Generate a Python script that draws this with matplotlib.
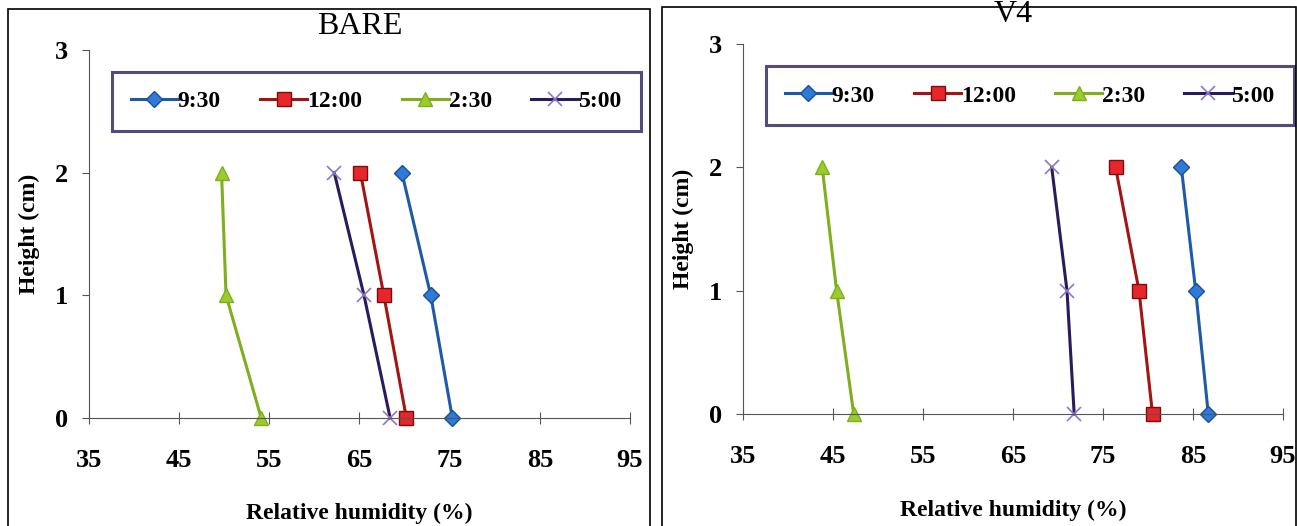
import matplotlib
matplotlib.use("Agg")
import matplotlib.pyplot as plt
from matplotlib.patches import Rectangle

heights = [2, 1, 0]
times = ["9:30", "12:00", "2:30", "5:00"]

# relative humidity (%) at heights 2, 1, 0 cm
bare_930 = [69.7, 72.9, 75.3]
bare_1200 = [65.1, 67.7, 70.2]
bare_230 = [49.7, 50.2, 54.1]
bare_500 = [62.2, 65.5, 68.4]

v4_930 = [83.7, 85.3, 86.7]
v4_1200 = [76.4, 79.0, 80.5]
v4_230 = [43.8, 45.4, 47.3]
v4_500 = [69.3, 71.0, 71.8]

x_ticks = [35, 45, 55, 65, 75, 85, 95]
y_ticks = [0, 1, 2, 3]

styles = [
    dict(color="#1F5AA8", marker="D", mfc="#2F7AD8", mec="#1A4F95", ms=8),
    dict(color="#A31515", marker="s", mfc="#E8262A", mec="#7A0E0E", ms=10),
    dict(color="#7FAE1E", marker="^", mfc="#9BCB2C", mec="#7FAE1E", ms=10),
    dict(color="#2A1B5C", marker="x", mfc="none", mec="#8C78C8", ms=10, mew=1.2),
]

plt.rcParams["font.family"] = ["Liberation Serif", "DejaVu Serif"]
plt.rcParams["font.weight"] = "bold"

fig = plt.figure(figsize=(12.97, 5.26), dpi=100)
W, H = 1297, 526

# panel frames
fig.patches.append(Rectangle((8 / W, -0.01), (650 - 8) / W, 1 - 9 / H + 0.01,
                             transform=fig.transFigure, fill=False, ec="black", lw=1.2))
fig.patches.append(Rectangle((662 / W, -0.01), (1296 - 662) / W, 1 - 7 / H + 0.01,
                             transform=fig.transFigure, fill=False, ec="black", lw=1.2))

panels = [
    ("BARE", [bare_930, bare_1200, bare_230, bare_500], [89, 630, 418, 50], 29, 513, 27),
    ("V4", [v4_930, v4_1200, v4_230, v4_500], [743, 1283, 414, 44], 683, 510, 14),
]

for title, series, (x0, x1, yb, yt), ylab_x, xlab_y, title_y in panels:
    ax = fig.add_axes([x0 / W, 1 - yb / H, (x1 - x0) / W, (yb - yt) / H])
    for name, vals, st in zip(times, series, styles):
        ax.plot(vals, heights, lw=2.2, label=name, **st)
    ax.set_xlim(35, 95)
    ax.set_ylim(0, 3)
    ax.set_xticks(x_ticks)
    ax.set_yticks(y_ticks)
    for s in ["top", "right"]:
        ax.spines[s].set_visible(False)
    for s in ["left", "bottom"]:
        ax.spines[s].set_color("#555555")
    ax.tick_params(axis="x", direction="inout", length=8, color="#555555",
                   labelsize=19, pad=18)
    ax.tick_params(axis="y", direction="out", length=5, color="#555555",
                   labelsize=19, pad=10)
    for lab in ax.get_xticklabels() + ax.get_yticklabels():
        lab.set_fontweight("bold")
    ax.set_xlabel("Relative humidity (%)", fontsize=17, fontweight="bold", va="center")
    ax.set_ylabel("Height (cm)", fontsize=17, fontweight="bold", va="center")
    ax.xaxis.set_label_coords(0.5, (yb - xlab_y) / (yb - yt))
    ax.yaxis.set_label_coords((ylab_x - x0) / (x1 - x0), 0.5)
    fig.text((x0 + x1) / 2 / W, 1 - title_y / H, title, fontsize=23,
             fontweight="normal", ha="center", va="center")
    for ln in ax.lines:
        ln.set_clip_on(False)
    leg = ax.legend(loc="lower left", bbox_to_anchor=(0.042, 0.78, 0.978, 0.2),
                    mode="expand", ncol=4, frameon=True, fancybox=False,
                    prop=dict(size=17, weight="bold"), handlelength=2.0,
                    handletextpad=0.0, borderaxespad=0, columnspacing=0.8,
                    borderpad=0.8)
    leg.get_frame().set_edgecolor("#2B1F5C")
    leg.get_frame().set_linewidth(2.2)

fig.savefig("out.png", dpi=100)
